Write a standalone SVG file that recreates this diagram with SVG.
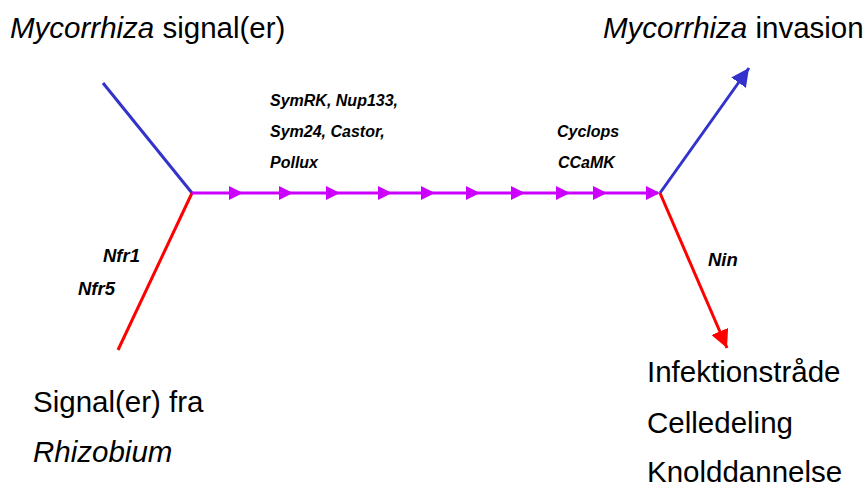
<svg xmlns="http://www.w3.org/2000/svg" width="865" height="488" viewBox="0 0 865 488">
<style>
.big{font-family:"Liberation Sans",Arial,sans-serif;font-size:29.5px;fill:#000}
.it{font-style:italic}
.sm{font-family:"Liberation Sans",Arial,sans-serif;font-size:16px;font-style:italic;font-weight:bold;fill:#000}
.md{font-family:"Liberation Sans",Arial,sans-serif;font-size:18.5px;font-style:italic;font-weight:bold;fill:#000}
.mag{fill:#CC00FF}
</style>
<defs>
<marker id="ab" viewBox="0 0 10 10" refX="10" refY="5" markerWidth="6" markerHeight="6" orient="auto" markerUnits="strokeWidth">
<path d="M0,0 L10,5 L0,10 z" fill="#3333CC"/>
</marker>
<marker id="ar" viewBox="0 0 10 10" refX="10" refY="5" markerWidth="6" markerHeight="6" orient="auto" markerUnits="strokeWidth">
<path d="M0,0 L10,5 L0,10 z" fill="#FF0000"/>
</marker>
<polygon id="tri" points="-14,-7 0,0 -14,7" class="mag"/>
</defs>
<g id="connectors">
<line x1="103" y1="83" x2="192" y2="193" stroke="#3333CC" stroke-width="3"/>
<line x1="192" y1="193" x2="118" y2="350" stroke="#FF0000" stroke-width="3"/>
<line x1="192" y1="193" x2="658" y2="193" stroke="#CC00FF" stroke-width="3"/>
<use href="#tri" x="243" y="193"/>
<use href="#tri" x="293" y="193"/>
<use href="#tri" x="340" y="193"/>
<use href="#tri" x="392" y="193"/>
<use href="#tri" x="435" y="193"/>
<use href="#tri" x="480" y="193"/>
<use href="#tri" x="525" y="193"/>
<use href="#tri" x="570" y="193"/>
<use href="#tri" x="607" y="193"/>
<use href="#tri" x="660" y="193"/>
<line x1="660" y1="193" x2="749" y2="68" stroke="#3333CC" stroke-width="3" marker-end="url(#ab)"/>
<line x1="660" y1="193" x2="727" y2="348" stroke="#FF0000" stroke-width="3" marker-end="url(#ar)"/>
</g>
<g id="mycorrhiza-signal"><text class="big" x="10" y="38"><tspan class="it">Mycorrhiza</tspan> signal(er)</text></g>
<g id="mycorrhiza-invasion"><text class="big" x="603" y="38"><tspan class="it">Mycorrhiza</tspan> invasion</text></g>
<g id="rhizobium-signal">
<text class="big" x="33" y="412">Signal(er) fra</text>
<text class="big it" x="33" y="462">Rhizobium</text>
</g>
<g id="outcomes">
<text class="big" x="647" y="382">Infektionstråde</text>
<text class="big" x="647" y="433">Celledeling</text>
<text class="big" x="647" y="482">Knolddannelse</text>
</g>
<g id="genes-mid">
<text class="sm" x="270" y="106">SymRK, Nup133,</text>
<text class="sm" x="270" y="137">Sym24, Castor,</text>
<text class="sm" x="270" y="168">Pollux</text>
</g>
<g id="genes-right">
<text class="sm" x="557" y="137">Cyclops</text>
<text class="sm" x="558" y="168">CCaMK</text>
</g>
<g id="nfr">
<text class="md" x="103" y="262">Nfr1</text>
<text class="md" x="78" y="295">Nfr5</text>
</g>
<g id="nin"><text class="md" x="708" y="266">Nin</text></g>
</svg>
